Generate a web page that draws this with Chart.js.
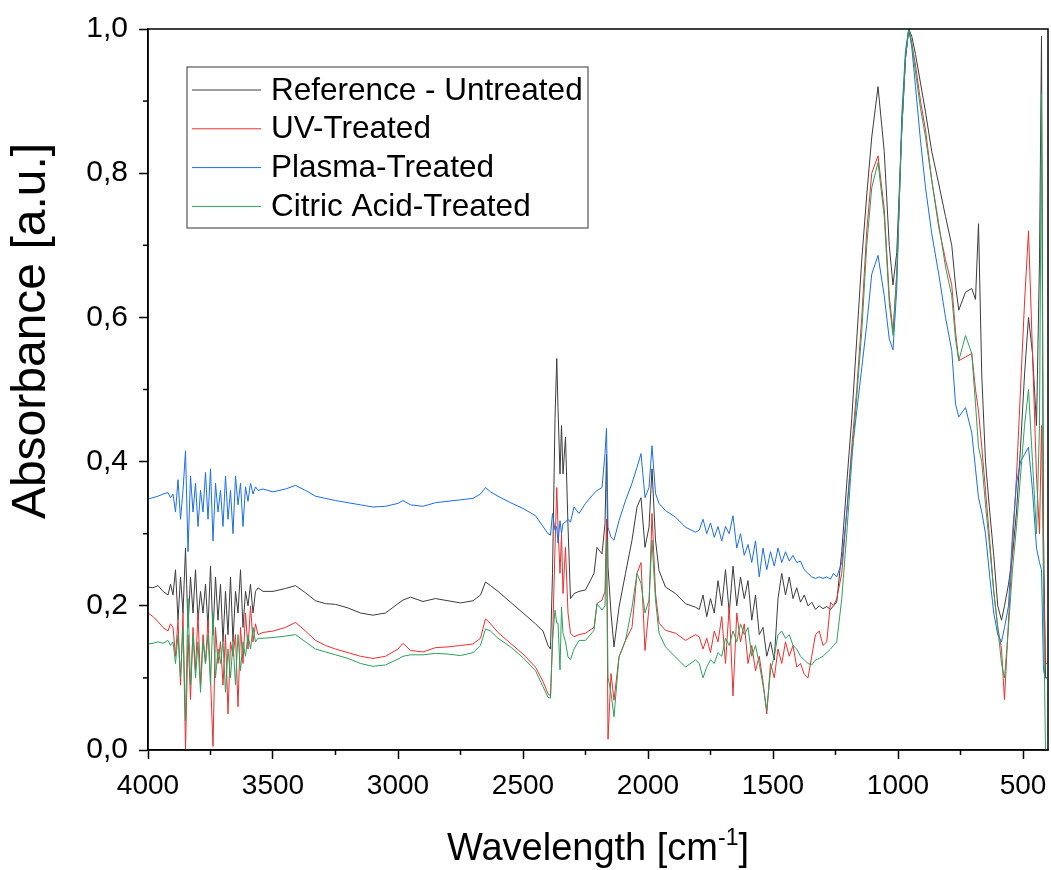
<!DOCTYPE html>
<html>
<head>
<meta charset="utf-8">
<script src="https://cdn.jsdelivr.net/npm/chart.js@4.4.1/dist/chart.umd.min.js"></script>
<style>
  html, body { margin: 0; padding: 0; background: #fff; }
  #wrap { width: 1051px; height: 870px; }
</style>
</head>
<body>
<div id="wrap"><canvas id="myChart" width="1051" height="870"></canvas></div>
<script>
// wavenumber grid (cm-1), shared by all four spectra
var wavenumber = [
  4000, 3980, 3960, 3940, 3920, 3910,
  3900, 3890, 3880, 3870, 3860, 3850, 3840, 3830, 3820, 3810, 3800, 3790, 3780, 3770, 3760, 3750, 3740, 3730, 3720, 3710,
  3700, 3690, 3680, 3670, 3660, 3650, 3640, 3630, 3620, 3610, 3600, 3590, 3580, 3570, 3560,
  3540, 3500, 3450, 3410, 3370, 3330, 3290, 3250, 3200, 3150, 3100, 3050, 3000, 2980, 2950, 2900, 2850, 2800, 2750, 2700,
  2670, 2650, 2630, 2600, 2550, 2500, 2450, 2420, 2400,
  2390, 2382, 2372, 2365, 2360, 2352, 2346, 2340, 2330, 2320, 2310, 2296, 2276, 2250, 2216, 2204, 2184, 2172, 2166, 2160,
  2148, 2136, 2116, 2090, 2064, 2044, 2028, 2012, 1996, 1984, 1970, 1956, 1930, 1890, 1850, 1810,
  1795, 1780, 1765, 1750, 1735, 1720, 1705, 1690, 1675, 1660, 1645, 1630, 1615, 1600, 1585, 1570, 1555, 1540, 1525, 1510,
  1495, 1480, 1465, 1450, 1435, 1420, 1405, 1390, 1375, 1360, 1345, 1330, 1315, 1300, 1285, 1270, 1258,
  1245, 1225, 1205, 1185, 1165, 1145, 1125, 1105, 1080, 1055, 1035, 1020, 1005, 985, 970, 957, 945, 930, 910, 890,
  865, 837, 810, 785, 770, 757, 730, 705, 690, 678, 665, 650, 633, 617, 601, 586, 574, 558, 542, 526,
  510, 494, 478, 462, 446, 434, 426, 418, 410, 404
];

var reference = [
  0.226, 0.225, 0.228, 0.22, 0.215, 0.23,
  0.215, 0.25, 0.18, 0.24, 0.19, 0.28, 0.17, 0.24, 0.19, 0.25, 0.18, 0.22, 0.19, 0.23, 0.17, 0.255, 0.16, 0.24, 0.18, 0.23,
  0.15, 0.22, 0.16, 0.24, 0.15, 0.22, 0.19, 0.25, 0.17, 0.22, 0.20, 0.23, 0.19, 0.22, 0.225,
  0.22, 0.22, 0.224, 0.228, 0.218, 0.207, 0.203, 0.202, 0.197, 0.19, 0.187, 0.19, 0.203, 0.208, 0.212, 0.206, 0.21, 0.207, 0.204, 0.207,
  0.215, 0.233, 0.228, 0.22, 0.205, 0.19, 0.175, 0.165, 0.145,
  0.14, 0.245, 0.46, 0.543, 0.475, 0.383, 0.45, 0.383, 0.434, 0.31, 0.21, 0.217, 0.22, 0.222, 0.245, 0.281, 0.272, 0.314, 0.41, 0.254,
  0.19, 0.143, 0.198, 0.245, 0.291, 0.337, 0.35, 0.281, 0.309, 0.39, 0.291, 0.249, 0.226, 0.217, 0.203, 0.198,
  0.195, 0.215, 0.185, 0.21, 0.19, 0.235, 0.20, 0.25, 0.19, 0.255, 0.20, 0.24, 0.21, 0.235, 0.18, 0.215, 0.16, 0.17, 0.13, 0.15,
  0.125, 0.21, 0.245, 0.215, 0.24, 0.21, 0.225, 0.205, 0.215, 0.2, 0.205, 0.195, 0.2, 0.196, 0.199, 0.195, 0.2,
  0.205, 0.275, 0.37, 0.46, 0.57, 0.68, 0.77, 0.85, 0.92, 0.83, 0.70, 0.645, 0.69, 0.86, 0.96, 1.0, 0.99, 0.965, 0.925, 0.885,
  0.83, 0.785, 0.74, 0.70, 0.645, 0.61, 0.635, 0.64, 0.625, 0.73, 0.52, 0.40, 0.33, 0.27, 0.20, 0.18, 0.20, 0.23, 0.27, 0.33,
  0.42, 0.52, 0.60, 0.55, 0.45, 0.68, 0.99, 0.30, 0.10, 0.10
];

var uvTreated = [
  0.19, 0.185, 0.178, 0.17, 0.165, 0.175,
  0.17, 0.13, 0.18, 0.09, 0.19, 0.0, 0.16, 0.07, 0.17, 0.11, 0.19, 0.09, 0.16, 0.12, 0.18, 0.10, 0.005, 0.17, 0.12, 0.15,
  0.09, 0.16, 0.05, 0.15, 0.13, 0.16, 0.06, 0.17, 0.12, 0.19, 0.14, 0.20, 0.15, 0.175, 0.16,
  0.163, 0.165, 0.17, 0.177, 0.165, 0.152, 0.145, 0.14, 0.135, 0.13, 0.127, 0.13, 0.14, 0.148, 0.138, 0.136, 0.142, 0.143, 0.145, 0.147,
  0.155, 0.182, 0.175, 0.163, 0.148, 0.133, 0.115, 0.095, 0.078,
  0.075, 0.15, 0.28, 0.364, 0.309, 0.245, 0.30, 0.217, 0.281, 0.19, 0.162, 0.157, 0.16, 0.162, 0.17, 0.203, 0.208, 0.22, 0.32, 0.015,
  0.106, 0.069, 0.129, 0.152, 0.17, 0.245, 0.26, 0.138, 0.198, 0.328, 0.217, 0.176, 0.166, 0.162, 0.152, 0.16,
  0.157, 0.14, 0.155, 0.135, 0.165, 0.15, 0.185, 0.12, 0.20, 0.075, 0.19, 0.15, 0.175, 0.12, 0.145, 0.11, 0.13, 0.095, 0.05, 0.12,
  0.1, 0.14, 0.12, 0.15, 0.13, 0.145, 0.115, 0.12, 0.105, 0.1, 0.13, 0.16, 0.165, 0.145, 0.15, 0.205, 0.2,
  0.21, 0.245, 0.33, 0.42, 0.50, 0.60, 0.72, 0.80, 0.824, 0.75, 0.63, 0.58, 0.66, 0.86, 0.96, 1.0, 0.98, 0.95, 0.90, 0.86,
  0.79, 0.725, 0.68, 0.645, 0.58, 0.54, 0.545, 0.55, 0.50, 0.47, 0.42, 0.36, 0.29, 0.22, 0.17, 0.14, 0.07, 0.18, 0.28, 0.38,
  0.50, 0.62, 0.72, 0.55, 0.38, 0.30, 0.45, 0.25, 0.12, 0.12
];

var plasmaTreated = [
  0.348, 0.35, 0.352, 0.355, 0.357, 0.35,
  0.355, 0.33, 0.375, 0.32, 0.36, 0.415, 0.275, 0.38, 0.33, 0.37, 0.31, 0.36, 0.33, 0.385, 0.32, 0.39, 0.29, 0.37, 0.33, 0.36,
  0.31, 0.38, 0.32, 0.36, 0.30, 0.38, 0.34, 0.37, 0.31, 0.365, 0.345, 0.37, 0.355, 0.365, 0.36,
  0.362, 0.358, 0.362, 0.367, 0.36, 0.352, 0.349, 0.346, 0.343, 0.34, 0.337, 0.338, 0.342, 0.346, 0.34, 0.338, 0.343, 0.345, 0.347, 0.349,
  0.355, 0.364, 0.358, 0.352, 0.343, 0.335, 0.325, 0.31, 0.30,
  0.298, 0.328, 0.305, 0.31, 0.287, 0.318, 0.30, 0.314, 0.316, 0.32, 0.316, 0.337, 0.328, 0.342, 0.356, 0.36, 0.364, 0.411, 0.446, 0.309,
  0.295, 0.291, 0.318, 0.346, 0.37, 0.392, 0.411, 0.35, 0.364, 0.422, 0.356, 0.342, 0.332, 0.323, 0.309, 0.302,
  0.305, 0.32, 0.30, 0.315, 0.295, 0.31, 0.29, 0.31, 0.30, 0.325, 0.28, 0.3, 0.27, 0.285, 0.26, 0.29, 0.24, 0.28, 0.25, 0.275,
  0.255, 0.28, 0.26, 0.275, 0.262, 0.27, 0.26, 0.262, 0.25, 0.245, 0.24, 0.238, 0.24, 0.238, 0.24, 0.237, 0.245,
  0.24, 0.26, 0.33, 0.41, 0.47, 0.53, 0.59, 0.66, 0.686, 0.63, 0.57, 0.555, 0.64, 0.88, 0.97, 1.0, 0.975, 0.92, 0.845, 0.78,
  0.716, 0.66, 0.60, 0.554, 0.48, 0.462, 0.475, 0.44, 0.39, 0.35, 0.33, 0.30, 0.24, 0.19, 0.16, 0.15, 0.17, 0.20, 0.30, 0.37,
  0.40, 0.41, 0.42, 0.36, 0.28, 0.26, 0.25, 0.11, 0.10, 0.10
];

var citricTreated = [
  0.147, 0.148, 0.15, 0.148, 0.152, 0.145,
  0.15, 0.12, 0.16, 0.10, 0.17, 0.04, 0.21, 0.09, 0.16, 0.10, 0.15, 0.08, 0.15, 0.12, 0.16, 0.09, 0.19, 0.10, 0.14, 0.12,
  0.15, 0.08, 0.14, 0.10, 0.15, 0.09, 0.16, 0.11, 0.15, 0.13, 0.16, 0.14, 0.17, 0.15, 0.155,
  0.155, 0.156, 0.158, 0.16, 0.15, 0.14, 0.136, 0.132, 0.127, 0.12, 0.116, 0.118, 0.126, 0.13, 0.132, 0.132, 0.134, 0.133, 0.131, 0.135,
  0.145, 0.168, 0.165, 0.155, 0.143, 0.128, 0.11, 0.088, 0.073,
  0.072, 0.152, 0.194, 0.176, 0.176, 0.111, 0.198, 0.162, 0.15, 0.129, 0.125, 0.14, 0.152, 0.152, 0.166, 0.203, 0.194, 0.2, 0.291, 0.101,
  0.079, 0.046, 0.129, 0.152, 0.198, 0.245, 0.231, 0.19, 0.208, 0.291, 0.208, 0.162, 0.143, 0.129, 0.115, 0.125,
  0.12, 0.10, 0.115, 0.125, 0.12, 0.135, 0.13, 0.155, 0.145, 0.165, 0.15, 0.175, 0.16, 0.17, 0.13, 0.145, 0.12, 0.09, 0.055, 0.11,
  0.13, 0.16, 0.165, 0.155, 0.16, 0.145, 0.14, 0.13, 0.125, 0.12, 0.118, 0.125, 0.127, 0.13, 0.135, 0.14, 0.145,
  0.15, 0.21, 0.30, 0.40, 0.49, 0.58, 0.70, 0.78, 0.815, 0.74, 0.62, 0.575, 0.66, 0.86, 0.96, 1.0, 0.98, 0.94, 0.89, 0.85,
  0.79, 0.73, 0.67, 0.63, 0.57, 0.54, 0.575, 0.55, 0.48, 0.42, 0.40, 0.34, 0.28, 0.22, 0.17, 0.12, 0.10, 0.17, 0.25, 0.31,
  0.38, 0.45, 0.50, 0.40, 0.30, 0.45, 0.91, 0.20, 0.0, 0.0
];

var seriesNames = ['Reference - Untreated', 'UV-Treated', 'Plasma-Treated', 'Citric Acid-Treated'];
var xTicks = [4000, 3500, 3000, 2500, 2000, 1500, 1000, 500];
var xMinor = [3750, 3250, 2750, 2250, 1750, 1250, 750];
var yTicks = [0, 0.2, 0.4, 0.6, 0.8, 1.0];
var yMinor = [0.1, 0.3, 0.5, 0.7, 0.9];

var colors = ['#3c3c3c', '#e8302f', '#1d6de5', '#2f9f5c'];
var FONT = "'Liberation Sans', Arial, sans-serif";

var dataset = [reference, uvTreated, plasmaTreated, citricTreated].map((vals, i) => {
  return {
    label: seriesNames[i],
    data: wavenumber.map((w, j) => ({ x: w, y: vals[j] })),
    borderColor: colors[i],
    borderWidth: 1,
    pointRadius: 0,
    fill: false,
    tension: 0,
    order: 4 - i
  }
});

// frame, minor ticks, axis titles and the boxed legend
var decor = {
  id: 'decor',
  afterDraw(chart) {
    var ctx = chart.ctx, a = chart.chartArea, x = chart.scales.x, y = chart.scales.y;
    ctx.save();
    ctx.strokeStyle = '#000';
    ctx.lineWidth = 1.5;
    ctx.strokeRect(a.left, a.top, a.right - a.left, a.bottom - a.top);

    xMinor.forEach(v => {
      var px = x.getPixelForValue(v);
      ctx.beginPath(); ctx.moveTo(px, a.bottom); ctx.lineTo(px, a.bottom + 5); ctx.stroke();
    });
    yMinor.forEach(v => {
      var py = y.getPixelForValue(v);
      ctx.beginPath(); ctx.moveTo(a.left, py); ctx.lineTo(a.left - 5, py); ctx.stroke();
    });

    ctx.fillStyle = '#000';
    // y title
    ctx.save();
    ctx.translate(32, 331);
    ctx.rotate(-Math.PI / 2);
    ctx.font = '48px ' + FONT;
    ctx.textAlign = 'center';
    ctx.textBaseline = 'middle';
    ctx.fillText('Absorbance [a.u.]', 0, 0);
    ctx.restore();

    // x title with superscript
    var main = 'Wavelength [cm', sup = '-1', end = ']';
    ctx.font = '38px ' + FONT;
    var w1 = ctx.measureText(main).width, w3 = ctx.measureText(end).width;
    ctx.font = '23px ' + FONT;
    var w2 = ctx.measureText(sup).width;
    var cx = (a.left + a.right) / 2, left = cx - (w1 + w2 + w3) / 2, base = 860;
    ctx.textAlign = 'left';
    ctx.textBaseline = 'alphabetic';
    ctx.font = '38px ' + FONT;
    ctx.fillText(main, left, base);
    ctx.font = '23px ' + FONT;
    ctx.fillText(sup, left + w1, base - 15);
    ctx.font = '38px ' + FONT;
    ctx.fillText(end, left + w1 + w2, base);

    // legend
    var lx = a.left + 39, ly = a.top + 38;
    ctx.strokeStyle = '#555';
    ctx.lineWidth = 1.2;
    ctx.strokeRect(lx, ly, 401, 161);
    ctx.font = '31.5px ' + FONT;
    ctx.textBaseline = 'middle';
    chart.data.datasets.forEach((ds, i) => {
      var ry = ly + 23 + i * 38.8;
      ctx.strokeStyle = ds.borderColor;
      ctx.lineWidth = 1;
      ctx.beginPath(); ctx.moveTo(lx + 5, ry); ctx.lineTo(lx + 74, ry); ctx.stroke();
      ctx.fillStyle = '#000';
      ctx.fillText(ds.label, lx + 84, ry + 1);
    });
    ctx.restore();
  }
};

var ctx = document.getElementById('myChart').getContext('2d');

var myChart = new Chart(ctx, {
  type: 'line',
  data: { datasets: dataset },
  plugins: [decor],
  options: {
    responsive: false,
    animation: false,
    layout: { padding: { top: 28, right: 3, left: 0, bottom: 0 } },
    plugins: { legend: { display: false }, tooltip: { enabled: false } },
    scales: {
      x: {
        type: 'linear',
        reverse: true,
        min: 400,
        max: 4000,
        afterBuildTicks: s => { s.ticks = xTicks.map(v => ({ value: v })); },
        afterFit: s => { s.height = 120; s.paddingLeft = 0; s.paddingRight = 0; },
        ticks: {
          color: '#000', font: { family: FONT, size: 28 }, padding: 10, maxRotation: 0, autoSkip: false,
          callback: v => String(v)
        },
        grid: { drawOnChartArea: false, tickLength: 9, tickWidth: 1.5, tickColor: '#000' },
        border: { color: '#000', width: 1.5 }
      },
      y: {
        min: 0,
        max: 1,
        afterBuildTicks: s => { s.ticks = yTicks.map(v => ({ value: v })); },
        afterFit: s => { s.width = 148; },
        ticks: {
          color: '#000', font: { family: FONT, size: 30 }, padding: 11,
          callback: v => v.toFixed(1).replace('.', ',')
        },
        grid: { drawOnChartArea: false, tickLength: 9, tickWidth: 1.5, tickColor: '#000' },
        border: { color: '#000', width: 1.5 }
      }
    }
  }
});
</script>
</body>
</html>
